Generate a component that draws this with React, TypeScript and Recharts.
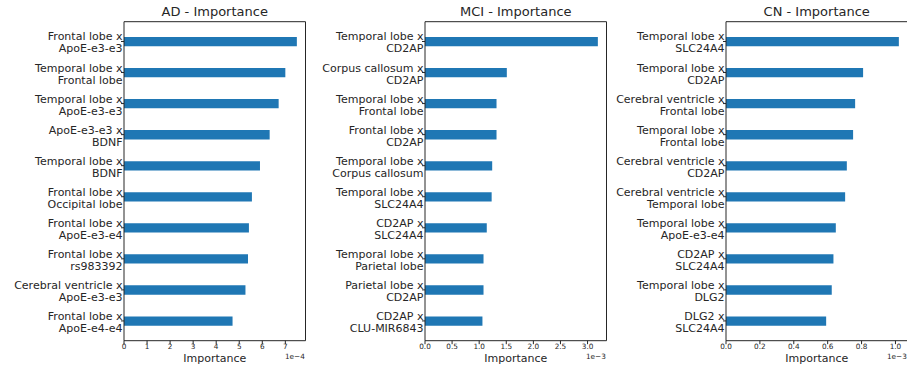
import { BarChart, Bar, XAxis, YAxis, Label } from "recharts";

// AD values are in units of 1e-4, MCI and CN in units of 1e-3
const adLabels = [
  "Frontal lobe x\nApoE-e3-e3",
  "Temporal lobe x\nFrontal lobe",
  "Temporal lobe x\nApoE-e3-e3",
  "ApoE-e3-e3 x\nBDNF",
  "Temporal lobe x\nBDNF",
  "Frontal lobe x\nOccipital lobe",
  "Frontal lobe x\nApoE-e3-e4",
  "Frontal lobe x\nrs983392",
  "Cerebral ventricle x\nApoE-e3-e3",
  "Frontal lobe x\nApoE-e4-e4",
];
const adValues = [7.5, 7.0, 6.71, 6.32, 5.9, 5.55, 5.42, 5.38, 5.27, 4.71];
const adTicks = [0, 1, 2, 3, 4, 5, 6, 7];

const mciLabels = [
  "Temporal lobe x\nCD2AP",
  "Corpus callosum x\nCD2AP",
  "Temporal lobe x\nFrontal lobe",
  "Frontal lobe x\nCD2AP",
  "Temporal lobe x\nCorpus callosum",
  "Temporal lobe x\nSLC24A4",
  "CD2AP x\nSLC24A4",
  "Temporal lobe x\nParietal lobe",
  "Parietal lobe x\nCD2AP",
  "CD2AP x\nCLU-MIR6843",
];
const mciValues = [3.19, 1.51, 1.32, 1.32, 1.24, 1.23, 1.14, 1.08, 1.08, 1.06];
const mciTicks = [0, 0.5, 1.0, 1.5, 2.0, 2.5, 3.0];

const cnLabels = [
  "Temporal lobe x\nSLC24A4",
  "Temporal lobe x\nCD2AP",
  "Cerebral ventricle x\nFrontal lobe",
  "Temporal lobe x\nFrontal lobe",
  "Cerebral ventricle x\nCD2AP",
  "Cerebral ventricle x\nTemporal lobe",
  "Temporal lobe x\nApoE-e3-e4",
  "CD2AP x\nSLC24A4",
  "Temporal lobe x\nDLG2",
  "DLG2 x\nSLC24A4",
];
const cnValues = [1.02, 0.809, 0.762, 0.75, 0.713, 0.703, 0.648, 0.634, 0.624, 0.591];
const cnTicks = [0, 0.2, 0.4, 0.6, 0.8, 1.0];

const FONT = "DejaVu Sans";
const TEXT = "#262626";
const BAR_COLOR = "#1f77b4";

function YTick({ x, y, payload }: any) {
  const [first, second] = String(payload.value).split("\n");
  const tx = x + 1.5;
  return (
    <text textAnchor="end" fontSize={11} fill={TEXT} fontFamily={FONT}>
      <tspan x={tx} y={y - 1}>{first}</tspan>
      <tspan x={tx} y={y + 11}>{second}</tspan>
    </text>
  );
}

function makeXTick(decimals: number) {
  return ({ x, y, payload }: any) => (
    <text x={x} y={y + 5.1} textAnchor="middle" fontSize={7.3} fill={TEXT} fontFamily={FONT}>
      {Number(payload.value).toFixed(decimals)}
    </text>
  );
}

interface PanelProps {
  title: string;
  labels: string[];
  values: number[];
  ticks: number[];
  decimals: number;
  scale: string;
  left: number;
}

function Panel({ title, labels, values, ticks, decimals, scale, left }: PanelProps) {
  const data = labels.map((label, i) => ({ label, value: values[i] }));

  return (
    <div style={{ position: "absolute", left, top: 0 }}>
      <BarChart
        width={306.5}
        height={370}
        data={data}
        layout="vertical"
        margin={{ top: 20.7, right: 0, bottom: 0, left: 0 }}
      >
        <XAxis
          type="number"
          dataKey="value"
          domain={[0, (max: number) => max * 1.05]}
          ticks={ticks}
          tick={makeXTick(decimals)}
          tickSize={3.5}
          tickMargin={0}
          height={29.3}
          allowDataOverflow
          axisLine={{ stroke: TEXT, strokeWidth: 1 }}
          tickLine={{ stroke: TEXT }}
        >
          <Label
            content={({ viewBox }: any) => (
              <g>
                <text
                  x={viewBox.x + viewBox.width / 2}
                  y={viewBox.y + 21.3}
                  textAnchor="middle"
                  fontSize={11}
                  fill={TEXT}
                  fontFamily={FONT}
                >
                  Importance
                </text>
                <text
                  x={viewBox.x + viewBox.width - 0.7}
                  y={viewBox.y + 17.8}
                  textAnchor="end"
                  fontSize={7.3}
                  fill={TEXT}
                  fontFamily={FONT}
                >
                  {scale}
                </text>
                <text
                  x={viewBox.x + viewBox.width / 2}
                  y={16}
                  textAnchor="middle"
                  fontSize={13}
                  fill={TEXT}
                  fontFamily={FONT}
                >
                  {title}
                </text>
              </g>
            )}
          />
        </XAxis>
        <XAxis
          xAxisId="top"
          orientation="top"
          type="number"
          domain={[0, 1]}
          height={1}
          tick={false}
          tickLine={false}
          axisLine={{ stroke: TEXT, strokeWidth: 1 }}
        />
        <YAxis
          type="category"
          dataKey="label"
          width={124}
          padding={{ top: 4.25, bottom: 4.25 }}
          tick={<YTick />}
          tickSize={3}
          tickMargin={0}
          interval={0}
          axisLine={{ stroke: TEXT, strokeWidth: 1 }}
          tickLine={{ stroke: TEXT }}
        />
        <YAxis
          yAxisId="right"
          orientation="right"
          type="category"
          dataKey="label"
          width={1}
          tick={false}
          tickLine={false}
          axisLine={{ stroke: TEXT, strokeWidth: 1 }}
        />
        <Bar dataKey="value" fill={BAR_COLOR} barSize={9.3} isAnimationActive={false} />
      </BarChart>
    </div>
  );
}

export default function App() {
  return (
    <div
      style={{
        position: "absolute",
        left: 0,
        top: 0,
        width: 907,
        height: 370,
        overflow: "hidden",
        background: "#ffffff",
      }}
    >
      <Panel title="AD - Importance" labels={adLabels} values={adValues} ticks={adTicks} decimals={0} scale="1e−4" left={0} />
      <Panel title="MCI - Importance" labels={mciLabels} values={mciValues} ticks={mciTicks} decimals={1} scale="1e−3" left={301} />
      <Panel title="CN - Importance" labels={cnLabels} values={cnValues} ticks={cnTicks} decimals={1} scale="1e−3" left={602} />
    </div>
  );
}
